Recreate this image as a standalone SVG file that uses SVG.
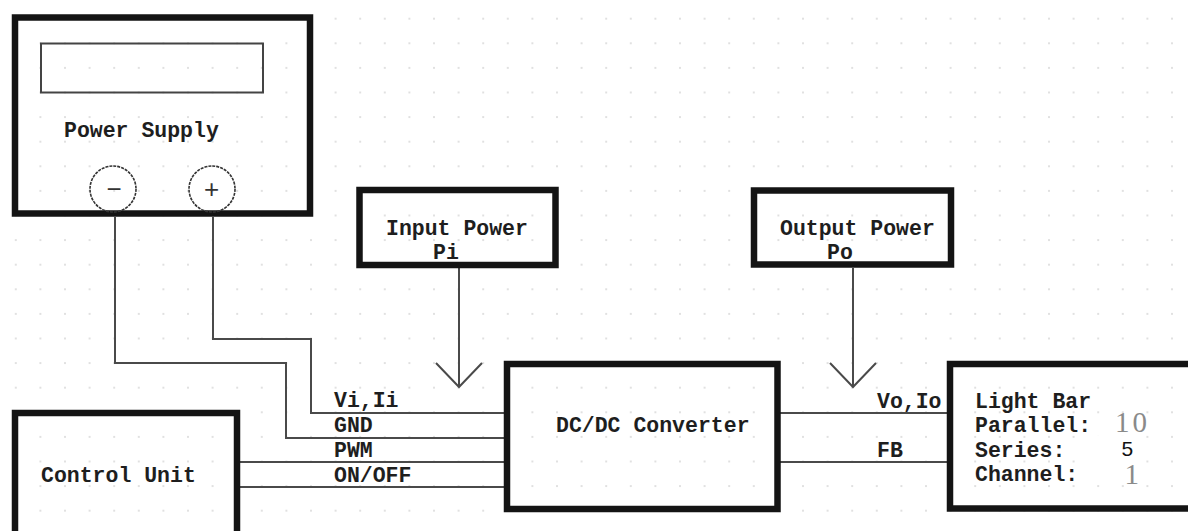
<svg xmlns="http://www.w3.org/2000/svg" width="1188" height="531" viewBox="0 0 1188 531">
  <defs>
    <pattern id="grid" x="14.8" y="17.7" width="24.6" height="24.6" patternUnits="userSpaceOnUse">
      <circle cx="1" cy="1" r="0.9" fill="#d2d2d2"/>
    </pattern>
    <style>
      .box { fill: none; stroke: #141414; stroke-width: 6.5; }
      .wire { fill: none; stroke: #4a4a4a; stroke-width: 2; }
      .lbl { font-family: "Liberation Mono", "Courier New", monospace; font-weight: bold; font-size: 21.5px; fill: #1e1e1e; }
      .num { font-family: "Liberation Serif", "Times New Roman", serif; font-size: 29px; fill: #8a8a8a; }
      .term { fill: none; stroke: #333; stroke-width: 1.6; stroke-dasharray: 3 1; }
      .sign { font-family: "Liberation Sans", Arial, sans-serif; font-size: 26px; fill: #333; }
    </style>
  </defs>
  <rect x="0" y="0" width="1188" height="531" fill="#ffffff"/>
  <rect x="0" y="0" width="1188" height="531" fill="url(#grid)"/>

  <g id="connectors">
    <polyline class="wire" points="115,217 115,363 286,363 286,438 504,438"/>
    <polyline class="wire" points="213,217 213,339 311,339 311,413 504,413"/>
    <line class="wire" x1="240" y1="462" x2="504" y2="462"/>
    <line class="wire" x1="240" y1="487" x2="504" y2="487"/>
    <line class="wire" x1="780" y1="413" x2="947" y2="413"/>
    <line class="wire" x1="780" y1="462" x2="947" y2="462"/>
    <line class="wire" x1="459" y1="268" x2="459" y2="387"/>
    <polyline class="wire" points="436,363 459,387 482,363"/>
    <line class="wire" x1="853" y1="268" x2="853" y2="387"/>
    <polyline class="wire" points="830,363 853,387 876,363"/>
    <text class="lbl" x="334" y="407">Vi,Ii</text>
    <text class="lbl" x="334" y="432">GND</text>
    <text class="lbl" x="334" y="457">PWM</text>
    <text class="lbl" x="334" y="482">ON/OFF</text>
    <text class="lbl" x="877" y="408">Vo,Io</text>
    <text class="lbl" x="877" y="457">FB</text>
  </g>

  <g id="power-supply">
    <rect class="box" x="15" y="17.5" width="295" height="196"/>
    <rect x="41" y="43.5" width="222" height="49" fill="none" stroke="#444" stroke-width="2"/>
    <text class="lbl" x="64" y="137">Power Supply</text>
    <circle class="term" cx="113" cy="189" r="23"/>
    <circle class="term" cx="212" cy="189" r="23"/>
    <text class="sign" x="114" y="198" text-anchor="middle">−</text>
    <text class="sign" x="211.5" y="198" text-anchor="middle">+</text>
  </g>

  <g id="input-power">
    <rect class="box" x="359.5" y="190" width="196" height="75"/>
    <text class="lbl" x="386" y="235">Input Power</text>
    <text class="lbl" x="433" y="259">Pi</text>
  </g>

  <g id="output-power">
    <rect class="box" x="754" y="190.5" width="197" height="74"/>
    <text class="lbl" x="780" y="235">Output Power</text>
    <text class="lbl" x="827" y="259">Po</text>
  </g>

  <g id="dcdc-converter">
    <rect class="box" x="507" y="364" width="270.5" height="145"/>
    <text class="lbl" x="556" y="432">DC/DC Converter</text>
  </g>

  <g id="control-unit">
    <rect class="box" x="15" y="413" width="222" height="130"/>
    <text class="lbl" x="41" y="482">Control Unit</text>
  </g>

  <g id="light-bar">
    <rect class="box" x="950" y="364" width="250" height="144.5"/>
    <text class="lbl" x="975" y="408">Light Bar</text>
    <text class="lbl" x="975" y="432">Parallel:</text>
    <text class="lbl" x="975" y="457">Series:</text>
    <text class="lbl" x="975" y="481">Channel:</text>
    <text class="num" x="1115" y="432" letter-spacing="3">10</text>
    <rect x="1096" y="436" width="46" height="29" fill="#ffffff"/>
    <text x="1121.5" y="456" font-family="Liberation Sans, Arial, sans-serif" font-size="21" fill="#111">5</text>
    <text class="num" x="1124.5" y="484">1</text>
  </g>
</svg>
